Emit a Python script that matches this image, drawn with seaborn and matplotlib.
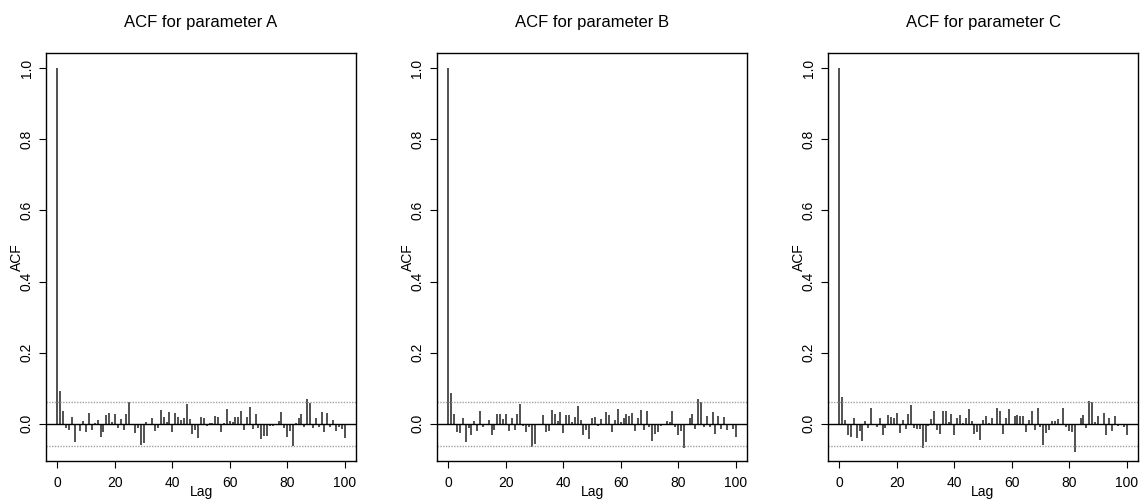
import numpy as np
import pandas as pd
import matplotlib
matplotlib.use("Agg")
import matplotlib.pyplot as plt
import seaborn as sns

# ---- data ----
lags = list(range(0, 101))
ci_bound = 0.062

acf_a = [1.0, 0.093, 0.036, -0.011, -0.016, 0.018, -0.051, -0.003, -0.020, 0.008,
         -0.024, 0.030, -0.016, 0.003, 0.010, -0.037, -0.023, 0.024, 0.030, 0.005,
         0.028, -0.013, 0.014, -0.016, 0.028, 0.062, -0.004, -0.027, -0.013, -0.060,
         -0.054, 0.005, -0.003, 0.015, -0.020, -0.013, 0.040, 0.020, 0.005, 0.034,
         -0.024, 0.030, 0.020, 0.010, 0.017, 0.055, 0.013, -0.030, -0.018, -0.040,
         0.020, 0.015, -0.007, 0.003, 0.002, 0.022, 0.019, -0.024, 0.003, 0.041,
         0.007, 0.005, 0.020, 0.020, 0.035, -0.016, 0.020, 0.047, -0.015, 0.029,
         -0.013, -0.043, -0.034, -0.035, -0.007, -0.005, -0.003, 0.007, 0.033, -0.013,
         -0.037, -0.021, -0.062, 0.003, 0.017, 0.028, -0.010, 0.070, 0.058, -0.013,
         0.017, -0.008, 0.034, -0.023, 0.031, -0.008, 0.012, -0.020, -0.010, -0.015,
         -0.041]

acf_b = [1.0, 0.088, 0.027, -0.023, -0.027, 0.017, -0.051, -0.011, -0.032, 0.007,
         -0.019, 0.037, -0.009, -0.004, 0.011, -0.032, -0.016, 0.027, 0.027, 0.013,
         0.027, -0.021, 0.015, -0.016, 0.027, 0.057, -0.005, -0.023, -0.010, -0.066,
         -0.057, -0.002, 0.000, 0.026, -0.023, -0.021, 0.038, 0.028, 0.007, 0.032,
         -0.027, 0.025, 0.025, 0.005, 0.018, 0.051, 0.010, -0.032, -0.016, -0.044,
         0.015, 0.019, -0.005, 0.013, -0.004, 0.034, 0.026, -0.023, 0.010, 0.043,
         0.006, 0.015, 0.027, 0.022, 0.031, -0.020, 0.015, 0.040, -0.017, 0.037,
         -0.009, -0.048, -0.029, -0.023, -0.005, -0.003, 0.009, 0.004, 0.037, -0.010,
         -0.032, -0.021, -0.068, -0.002, 0.015, 0.027, -0.015, 0.069, 0.062, -0.008,
         0.021, -0.009, 0.034, -0.029, 0.023, -0.015, 0.020, -0.016, -0.002, -0.015,
         -0.037]

acf_c = [1.0, 0.076, 0.012, -0.031, -0.038, 0.017, -0.040, -0.021, -0.047, 0.008,
         -0.012, 0.045, -0.004, -0.009, 0.017, -0.031, -0.012, 0.025, 0.020, 0.016,
         0.031, -0.026, 0.012, -0.014, 0.029, 0.054, -0.012, -0.015, -0.014, -0.068,
         -0.052, -0.007, 0.014, 0.035, -0.017, -0.028, 0.035, 0.036, 0.004, 0.028,
         -0.031, 0.015, 0.025, 0.002, 0.017, 0.042, 0.008, -0.028, -0.024, -0.045,
         0.011, 0.022, 0.002, 0.015, -0.003, 0.044, 0.036, -0.028, 0.015, 0.042,
         -0.002, 0.021, 0.025, 0.021, 0.022, -0.024, 0.012, 0.035, -0.016, 0.045,
         -0.008, -0.059, -0.025, -0.016, 0.007, 0.008, 0.013, -0.002, 0.044, -0.008,
         -0.020, -0.024, -0.078, -0.003, 0.017, 0.026, -0.012, 0.065, 0.060, 0.004,
         0.022, -0.002, 0.030, -0.031, 0.015, -0.021, 0.022, -0.007, -0.003, -0.010,
         -0.031]

titles = ["ACF for parameter A", "ACF for parameter B", "ACF for parameter C"]
x_ticks = [0, 20, 40, 60, 80, 100]
y_ticks = [0.0, 0.2, 0.4, 0.6, 0.8, 1.0]
x_label = "Lag"
y_label = "ACF"

# ---- style ----
sns.set_theme(style="ticks")
plt.rcParams["font.family"] = ["Liberation Sans", "DejaVu Sans"]
plt.rcParams["axes.linewidth"] = 1.0
plt.rcParams["axes.edgecolor"] = "black"

fig = plt.figure(figsize=(11.46, 4.99), dpi=100)
W, H = 1146.0, 499.0
lefts = [46, 437, 828]
ax_w = 310
ax_top, ax_bot = 53, 461

for left, title, vals in zip(lefts, titles, [acf_a, acf_b, acf_c]):
    ax = fig.add_axes([left / W, (H - ax_bot) / H, ax_w / W, (ax_bot - ax_top) / H])
    df = pd.DataFrame({"lag": lags, "acf": vals})
    ax.vlines(df["lag"], 0, df["acf"], color="#222222", linewidth=1.1)
    ax.axhline(0, color="black", linewidth=1.0)
    ax.axhline(ci_bound, color="#a0a0a0", linewidth=1.0, linestyle=(0, (1, 1)))
    ax.axhline(-ci_bound, color="#a0a0a0", linewidth=1.0, linestyle=(0, (1, 1)))
    ax.set_xlim(-4, 104)
    ax.set_ylim(-0.1045, 1.0425)
    ax.set_xticks(x_ticks)
    ax.set_xticklabels([str(t) for t in x_ticks])
    ax.set_yticks(y_ticks)
    ax.set_yticklabels([f"{t:.1f}" for t in y_ticks])
    ax.tick_params(axis="both", direction="out", length=5, width=0.8,
                   labelsize=10, color="black", labelcolor="black", pad=6)
    ax.tick_params(axis="y", labelrotation=90, pad=4)
    for lab in ax.get_yticklabels():
        lab.set_va("center")
    for s in ax.spines.values():
        s.set_visible(True)
        s.set_color("black")
        s.set_linewidth(1.0)
    ax.set_title(title, fontsize=12, pad=19, color="black")
    ax.set_xlabel(x_label, fontsize=10, color="black")
    ax.set_ylabel(y_label, fontsize=10, color="black")
    ax.xaxis.set_label_coords(0.5, -0.06)
    ax.yaxis.set_label_coords(-0.072, 0.5)

fig.savefig("out.png", dpi=100)
